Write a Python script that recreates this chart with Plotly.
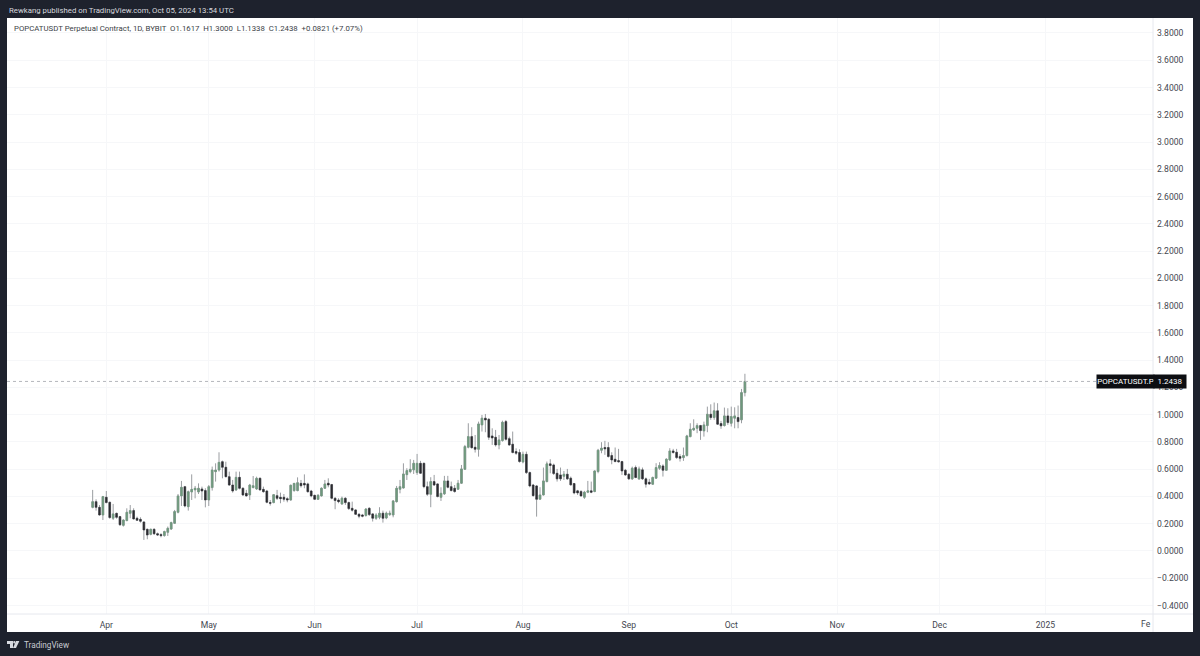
import pandas as pd
import plotly.graph_objects as go

# POPCATUSDT.P daily candles (2024-03-28 .. 2024-10-05)
dates = pd.date_range("2024-03-28", "2024-10-05", freq="D")
opens = [
    .320, .362, .320, .264, .394, .357, .240, .276, .252, .188, .223, .276, .296, .240, .232, .213,
    .159, .122, .159, .127, .120, .113, .137, .161, .203, .284, .404, .472, .325, .433, .448, .433,
    .455, .443, .374, .465, .582, .594, .655, .614, .545, .484, .448, .540, .460, .423, .411, .465,
    .455, .533, .452, .440, .355, .355, .406, .394, .394, .384, .374, .443, .443, .496, .496, .492,
    .440, .408, .379, .404, .460, .497, .487, .387, .374, .345, .387, .355, .313, .301, .269, .264,
    .260, .313, .272, .240, .247, .277, .242, .267, .264, .362, .453, .462, .560, .582, .595, .575,
    .643, .643, .472, .416, .509, .492, .394, .419, .514, .472, .460, .453, .497, .599, .761, .839,
    .761, .746, .925, .974, .966, .844, .834, .778, .810, .949, .824, .783, .729, .722, .653, .709,
    .575, .484, .477, .380, .411, .509, .639, .631, .570, .558, .548, .563, .534, .495, .441, .436,
    .394, .431, .441, .436, .583, .739, .759, .759, .700, .673, .663, .656, .592, .563, .529, .612,
    .529, .595, .529, .504, .490, .534, .607, .624, .592, .668, .734, .724, .693, .685, .700, .839,
    .888, .900, .920, .881, .920, 1.003, .979, 1.028, .935, .920, .991, .937, .974, .979, .962, 1.1617,
]
highs = [
    .448, .379, .337, .404, .440, .362, .345, .281, .257, .232, .313, .337, .313, .252, .247, .215,
    .164, .164, .166, .135, .130, .149, .179, .215, .301, .418, .514, .477, .443, .562, .477, .496,
    .472, .460, .484, .619, .643, .724, .663, .655, .582, .521, .582, .582, .467, .448, .492, .550,
    .545, .540, .472, .448, .374, .418, .448, .428, .418, .394, .487, .496, .540, .521, .562, .501,
    .448, .413, .418, .467, .521, .533, .492, .394, .387, .399, .394, .362, .362, .306, .277, .272,
    .313, .321, .277, .277, .321, .296, .289, .296, .374, .477, .521, .643, .607, .673, .668, .712,
    .661, .648, .509, .541, .558, .497, .467, .551, .551, .509, .484, .521, .631, .778, .937, .908,
    .851, .949, .998, 1.005, .974, .900, .888, .851, .956, .961, .839, .876, .753, .746, .729, .729,
    .582, .492, .484, .468, .612, .656, .673, .641, .602, .612, .587, .602, .546, .499, .448, .446,
    .441, .514, .509, .592, .749, .798, .808, .798, .724, .759, .749, .661, .602, .570, .619, .627,
    .619, .612, .539, .529, .546, .644, .651, .636, .680, .754, .749, .749, .710, .759, .852, .937,
    .966, .937, .925, .949, 1.059, 1.076, 1.089, 1.084, .954, 1.052, 1.047, 1.059, 1.054, 1.067, 1.189, 1.3000,
]
lows = [
    .313, .296, .259, .227, .350, .237, .227, .237, .183, .179, .218, .240, .232, .220, .208, .081,
    .086, .115, .117, .110, .100, .105, .110, .154, .198, .276, .330, .320, .296, .374, .386, .418,
    .374, .320, .330, .443, .509, .582, .533, .540, .477, .428, .440, .452, .404, .399, .374, .460,
    .448, .443, .428, .350, .333, .350, .374, .350, .362, .357, .369, .435, .438, .465, .460, .428,
    .394, .374, .374, .399, .455, .467, .379, .306, .350, .338, .338, .301, .289, .264, .240, .247,
    .252, .257, .216, .228, .233, .208, .233, .257, .247, .355, .423, .458, .521, .570, .565, .558,
    .565, .460, .404, .321, .477, .394, .367, .411, .460, .438, .428, .448, .492, .595, .753, .751,
    .722, .692, .876, .871, .815, .778, .766, .746, .802, .810, .771, .717, .705, .648, .643, .565,
    .467, .399, .252, .375, .407, .504, .570, .558, .509, .514, .521, .521, .480, .416, .411, .399,
    .382, .424, .424, .431, .570, .717, .705, .685, .636, .651, .649, .558, .551, .521, .521, .534,
    .521, .521, .465, .485, .485, .529, .595, .546, .587, .661, .715, .676, .656, .661, .693, .834,
    .881, .864, .815, .839, .871, .962, .962, .925, .896, .913, .925, .913, .900, .900, .937, 1.1338,
]
closes = [
    .362, .320, .264, .399, .355, .245, .272, .247, .193, .227, .284, .296, .235, .225, .218, .154,
    .117, .159, .127, .117, .113, .142, .166, .208, .289, .404, .467, .330, .435, .452, .460, .460,
    .440, .374, .472, .594, .594, .650, .614, .545, .484, .440, .540, .460, .411, .404, .484, .479,
    .533, .448, .435, .357, .350, .413, .386, .384, .379, .374, .482, .496, .501, .479, .484, .435,
    .404, .379, .408, .460, .492, .484, .387, .370, .362, .387, .355, .311, .299, .269, .255, .255,
    .308, .267, .240, .264, .277, .240, .277, .277, .367, .460, .472, .565, .590, .599, .643, .643,
    .570, .472, .416, .509, .484, .399, .423, .514, .467, .443, .436, .497, .602, .766, .839, .758,
    .746, .932, .974, .961, .834, .829, .778, .815, .944, .819, .778, .722, .717, .656, .709, .575,
    .477, .406, .379, .411, .514, .639, .627, .568, .529, .529, .563, .529, .485, .426, .426, .404,
    .431, .441, .431, .587, .739, .754, .749, .693, .668, .656, .654, .587, .558, .529, .607, .539,
    .602, .529, .490, .492, .539, .612, .627, .592, .673, .734, .722, .685, .680, .700, .844, .893,
    .900, .920, .883, .925, 1.003, .979, 1.028, .930, .918, .991, .942, .986, .991, .949, 1.1617, 1.2438,
]

y_ticks = [-0.4, -0.2, 0.0, 0.2, 0.4, 0.6, 0.8, 1.0, 1.2, 1.4, 1.6, 1.8, 2.0, 2.2, 2.4, 2.6, 2.8, 3.0, 3.2, 3.4, 3.6, 3.8]
month_ticks = ["2024-04-01", "2024-05-01", "2024-06-01", "2024-07-01", "2024-08-01", "2024-09-01",
               "2024-10-01", "2024-11-01", "2024-12-01", "2025-01-01"]
month_labels = ["Apr", "May", "Jun", "Jul", "Aug", "Sep", "Oct", "Nov", "Dec", "2025"]
last_price = 1.2438

UP = "#6f9a7d"
DOWN = "#2c2c30"
WICK = "#9a9da1"
DARK = "#1e222d"
FONT = "Roboto"

# pixel position of the plot area inside the 1200x656 page
L, R, T, B = 7, 1153, 18, 614


def px(x):
    return (x - L) / (R - L)


def py(y):
    return (B - y) / (B - T)


fig = go.Figure()
# wicks first, bodies on top so the wick can stay grey
fig.add_trace(go.Candlestick(
    x=dates, open=opens, high=highs, low=lows, close=closes,
    increasing=dict(line=dict(color=WICK, width=1), fillcolor=WICK),
    decreasing=dict(line=dict(color=WICK, width=1), fillcolor=WICK),
    hoverinfo="skip", showlegend=False,
))
fig.add_trace(go.Candlestick(
    x=dates, open=opens, close=closes,
    high=[max(a, b) for a, b in zip(opens, closes)],
    low=[min(a, b) for a, b in zip(opens, closes)],
    increasing=dict(line=dict(color=UP, width=0.4), fillcolor=UP),
    decreasing=dict(line=dict(color=DOWN, width=0.4), fillcolor=DOWN),
    showlegend=False,
))

shapes = [
    # white chart panel
    dict(type="rect", xref="paper", yref="paper", x0=px(7), x1=px(1193), y0=py(18), y1=py(632),
         fillcolor="white", line_width=0, layer="below"),
    # axis borders
    dict(type="line", xref="paper", yref="paper", x0=px(1153), x1=px(1153), y0=py(18), y1=py(632),
         line=dict(color="#e6e8ee", width=1)),
    dict(type="line", xref="paper", yref="paper", x0=px(7), x1=px(1193), y0=py(614), y1=py(614),
         line=dict(color="#e6e8ee", width=1)),
    # last price line
    dict(type="line", xref="paper", yref="y", x0=0, x1=px(1096), y0=last_price, y1=last_price,
         line=dict(color="#b4b6bb", width=1, dash="dot")),
    # TradingView logo
    dict(type="path", xref="paper", yref="paper", fillcolor="#d8dae0", line_width=0,
         path=f"M {px(7)} {py(641)} L {px(13)} {py(641)} L {px(13)} {py(648)} L {px(10)} {py(648)} "
              f"L {px(10)} {py(644)} L {px(7)} {py(644)} Z"),
    dict(type="circle", xref="paper", yref="paper", fillcolor="#d8dae0", line_width=0,
         x0=px(13.2), x1=px(15.4), y0=py(641), y1=py(643.4)),
    dict(type="path", xref="paper", yref="paper", fillcolor="#d8dae0", line_width=0,
         path=f"M {px(16)} {py(641)} L {px(19.4)} {py(641)} L {px(16)} {py(648)} L {px(13)} {py(648)} Z"),
]

annotations = [
    dict(text="Rewkang published on TradingView.com, Oct 05, 2024 13:54 UTC", xref="paper", yref="paper",
         x=px(7), y=py(10), xanchor="left", yanchor="middle", showarrow=False,
         font=dict(family=FONT, size=7.8, color="#d6d8de")),
    dict(text="POPCATUSDT Perpetual Contract, 1D, BYBIT  O1.1617  H1.3000  L1.1338  C1.2438  +0.0821 (+7.07%)",
         xref="paper", yref="paper", x=px(12), y=py(28), xanchor="left", yanchor="middle", showarrow=False,
         font=dict(family=FONT, size=7.8, color="#3c3f47")),
    dict(text="POPCATUSDT.P", xref="paper", yref="y", x=px(1096), y=last_price, xanchor="left", yanchor="middle",
         showarrow=False, bgcolor="#0d0e12", width=57, height=13, borderpad=0,
         font=dict(family=FONT, size=8, color="white")),
    dict(text="1.2438", xref="paper", yref="y", x=px(1153), y=last_price, xanchor="left", yanchor="middle",
         showarrow=False, bgcolor="#0d0e12", width=32, height=13, borderpad=0,
         font=dict(family=FONT, size=8, color="white")),
    dict(text="Fe", xref="paper", yref="paper", x=px(1153), y=py(624), xanchor="right", yanchor="middle",
         showarrow=False, font=dict(family=FONT, size=8.6, color="#444750")),
    dict(text="TradingView", xref="paper", yref="paper", x=px(22), y=py(645), xanchor="left", yanchor="middle",
         showarrow=False, font=dict(family=FONT, size=8.2, color="#c9ccd3")),
]

fig.update_layout(
    width=1200, height=656,
    margin=dict(l=L, r=1200 - R, t=T, b=656 - B, autoexpand=False),
    paper_bgcolor=DARK, plot_bgcolor="rgba(0,0,0,0)",
    font=dict(family=FONT, size=8.6, color="#444750"),
    showlegend=False, shapes=shapes, annotations=annotations,
    xaxis=dict(range=["2024-03-02 22:00", "2025-02-01 12:00"], rangeslider_visible=False,
               tickmode="array", tickvals=month_ticks, ticktext=month_labels, ticks="",
               ticklabelstandoff=4, showgrid=True, gridcolor="#f6f7f9", gridwidth=1,
               zeroline=False, showline=False),
    yaxis=dict(range=[-0.4624, 3.91], side="right", tickmode="array", tickvals=y_ticks,
               tickformat=".4f", ticks="", ticklabelstandoff=3, showgrid=True, gridcolor="#f6f7f9",
               gridwidth=1, zeroline=False, showline=False),
)

# browser default body margin would shift the fixed-size figure by 8px
fig.write_html("out.html", config={"displayModeBar": False},
               post_script="document.body.style.margin='0';document.body.style.overflow='hidden';")
